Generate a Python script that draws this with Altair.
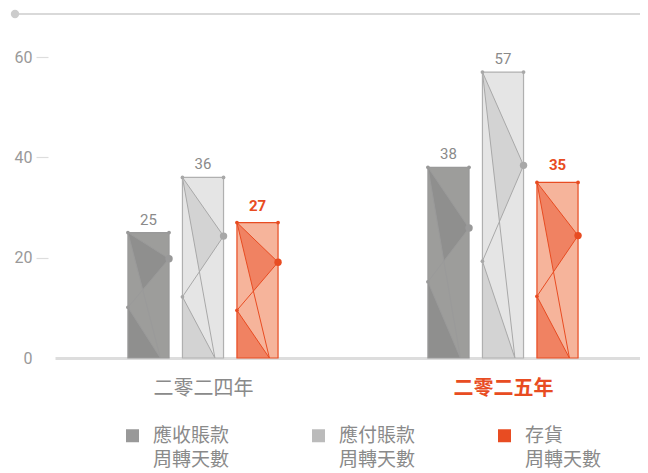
import json
import altair as alt
import pandas as pd

# ---------------- data ----------------
categories = ["二零二四年", "二零二五年"]
series = ["應收賬款 周轉天數", "應付賬款 周轉天數", "存貨 周轉天數"]
values_2024 = [25, 36, 27]
values_2025 = [38, 57, 35]
# decorative inner points (in data units)
right_pt_2024 = [19.8, 24.3, 19.1]
right_pt_2025 = [25.9, 38.4, 24.4]
left_pt_2024 = [10.1, 12.2, 9.5]
left_pt_2025 = [15.2, 19.3, 12.3]
y_ticks = [0, 20, 40, 60]

HIGHLIGHT_CAT = 1
HIGHLIGHT_SERIES = 2

# ---------------- layout / style ----------------
BAR_STEP = 0.1817
BAR_W = 0.137
B_FRAC = 0.79
W, H = 585, 301
XMIN = -0.4933
XMAX = XMIN + W / 300.0

BAR_FILLS = ["#9d9d9b", "#e5e5e5", "#f6b49b"]
BAR_STROKES = ["#999999", "#b0b0b0", "#e84c22"]
DARK_FILLS = ["#8f8f8e", "#d3d3d3", "#f08262"]
LINE_COLORS = ["#9a9a9a", "#a8a8a8", "#e84c22"]
DOT_COLORS = ["#999999", "#a8a8a8", "#e84c22"]
LEGEND_COLORS = ["#999999", "#bbbbbb", "#e84c22"]
ORANGE = "#e84c22"
GRAY_TXT = "#8a8a8a"
FONT = "Roboto, 'Noto Sans CJK TC', sans-serif"
CJK = "'Noto Sans CJK TC', sans-serif"

values = [values_2024, values_2025]
rights = [right_pt_2024, right_pt_2025]
lefts = [left_pt_2024, left_pt_2025]


def intersect(p1, p2, p3, p4):
    x1, y1 = p1; x2, y2 = p2; x3, y3 = p3; x4, y4 = p4
    d = (x1 - x2) * (y3 - y4) - (y1 - y2) * (x3 - x4)
    t = ((x1 - x3) * (y3 - y4) - (y1 - y3) * (x3 - x4)) / d
    return (x1 + t * (x2 - x1), y1 + t * (y2 - y1))


bars, polys, paths, dots = [], [], [], []
for ci, cat in enumerate(categories):
    for si, s in enumerate(series):
        v = values[ci][si]
        r = rights[ci][si]
        l = lefts[ci][si]
        xc = ci + (si - 1) * BAR_STEP
        x0, x1 = xc - BAR_W / 2, xc + BAR_W / 2
        xb = x0 + B_FRAC * BAR_W
        bid = f"{ci}-{si}"
        bars.append(dict(cat=cat, series=s, value=v, base=0, x0=x0, x1=x1, xc=xc,
                         mid=v / 2, label=str(v), hi=(si == HIGHLIGHT_SERIES)))
        TL, TR, R, L, B, BL = (x0, v), (x1, v), (x1, r), (x0, l), (xb, 0), (x0, 0)
        X = intersect(R, L, TL, B)
        for k, p in enumerate([TL, R, X]):
            polys.append(dict(pid=bid + "a", series=s, k=k, x=p[0], y=p[1]))
        for k, p in enumerate([L, BL, B]):
            polys.append(dict(pid=bid + "b", series=s, k=k, x=p[0], y=p[1]))
        for k, p in enumerate([TL, R, L, B, TL]):
            paths.append(dict(pid=bid, series=s, k=k, x=p[0], y=p[1]))
        for kind, p in [("small", TL), ("small", TR), ("small", L), ("big", R)]:
            dots.append(dict(series=s, kind=kind, x=p[0], y=p[1]))

bar_df = pd.DataFrame(bars)
poly_df = pd.DataFrame(polys)
path_df = pd.DataFrame(paths)
dot_df = pd.DataFrame(dots)

xs = alt.Scale(domain=[XMIN, XMAX], nice=False, zero=False)
ys = alt.Scale(domain=[0, 60], nice=False)

x_axis = alt.Axis(
    values=[0, 1],
    labelExpr=f"{json.dumps(categories, ensure_ascii=False)}[datum.value]",
    ticks=False, tickSize=0, grid=False, domain=True,
    domainColor="#dddddd", domainWidth=3,
    labelPadding=20, labelFontSize=20, labelFont=CJK,
    labelColor={"condition": {"test": f"datum.value == {HIGHLIGHT_CAT}", "value": ORANGE}, "value": GRAY_TXT},
    labelFontWeight={"condition": {"test": f"datum.value == {HIGHLIGHT_CAT}", "value": "bold"}, "value": "normal"},
    title=None,
)
y_axis = alt.Axis(
    values=y_ticks, grid=False, domain=False, offset=7, tickSize=12,
    tickColor={"condition": {"test": "datum.value == 0", "value": "transparent"}, "value": "#dddddd"},
    tickWidth=1.2, labelPadding=4, labelFontSize=16, labelColor="#999999", title=None,
)

X = alt.X("x:Q", scale=xs, axis=x_axis)
Y = alt.Y("y:Q", scale=ys, axis=y_axis)

legend_layer = alt.Chart(bar_df).mark_circle(size=10, opacity=1).encode(
    x=alt.X("xc:Q", scale=xs, axis=x_axis),
    y=alt.Y("mid:Q", scale=ys, axis=y_axis),
    color=alt.Color("series:N", scale=alt.Scale(domain=series, range=LEGEND_COLORS),
                    legend=alt.Legend(orient="none", legendX=68, legendY=369, direction="horizontal",
                                      columns=3, columnPadding=79, title=None, padding=0,
                                      symbolType="square", symbolSize=169, symbolStrokeWidth=0,
                                      symbolOpacity=1,
                                      labelExpr="split(datum.label, ' ')",
                                      labelFont=CJK, labelFontSize=19, labelColor=GRAY_TXT,
                                      labelOffset=11, labelBaseline="middle", labelLimit=300)),
)

bar_layer = alt.Chart(bar_df).mark_rect(strokeWidth=0).encode(
    x=alt.X("x0:Q", scale=xs, axis=x_axis), x2="x1:Q",
    y=alt.Y("value:Q", scale=ys, axis=y_axis), y2="base:Q",
    fill=alt.Fill("series:N", scale=alt.Scale(domain=series, range=BAR_FILLS), legend=None),
)

poly_layer = alt.Chart(poly_df).mark_line(strokeWidth=0, strokeOpacity=0).encode(
    x=X, y=Y, order=alt.Order("k:Q"), detail="pid:N",
    fill=alt.Fill("series:N", scale=alt.Scale(domain=series, range=DARK_FILLS), legend=None),
)

path_layer = alt.Chart(path_df).mark_line(strokeWidth=1).encode(
    x=X, y=Y, order=alt.Order("k:Q"), detail="pid:N",
    stroke=alt.Stroke("series:N", scale=alt.Scale(domain=series, range=LINE_COLORS), legend=None),
)

outline_layer = alt.Chart(bar_df).mark_rect(fillOpacity=0, strokeWidth=1.2).encode(
    x=alt.X("x0:Q", scale=xs, axis=x_axis), x2="x1:Q",
    y=alt.Y("value:Q", scale=ys, axis=y_axis), y2="base:Q",
    stroke=alt.Stroke("series:N", scale=alt.Scale(domain=series, range=BAR_STROKES), legend=None),
)

dot_layer = alt.Chart(dot_df).mark_circle(opacity=1).encode(
    x=X, y=Y,
    size=alt.Size("kind:N", scale=alt.Scale(domain=["small", "big"], range=[14, 55]), legend=None),
    color=alt.Color("series:N", scale=alt.Scale(domain=series, range=DOT_COLORS), legend=None),
)

text_normal = alt.Chart(bar_df).transform_filter("!datum.hi").mark_text(
    dy=-8, baseline="alphabetic", fontSize=15, color=GRAY_TXT, font=FONT).encode(
    x=alt.X("xc:Q", scale=xs, axis=x_axis), y=alt.Y("value:Q", scale=ys, axis=y_axis), text="label:N")

text_hi = alt.Chart(bar_df).transform_filter("datum.hi").mark_text(
    dy=-12, baseline="alphabetic", fontSize=15, fontWeight="bold", color=ORANGE, font=FONT).encode(
    x=alt.X("xc:Q", scale=xs, axis=x_axis), y=alt.Y("value:Q", scale=ys, axis=y_axis), text="label:N")

deco = pd.DataFrame({"a": [0]})
top_rule = alt.Chart(deco).mark_rule(color="#cccccc", strokeWidth=1.5).encode(
    x=alt.value(-39), x2=alt.value(W), y=alt.value(-43))
top_dot = alt.Chart(deco).mark_circle(color="#cccccc", size=70, opacity=1).encode(
    x=alt.value(-40), y=alt.value(-43))

chart = alt.layer(
    legend_layer, bar_layer, poly_layer, path_layer, outline_layer, dot_layer,
    text_normal, text_hi, top_rule, top_dot,
).resolve_scale(
    fill="independent", stroke="independent", color="independent", size="independent"
).properties(
    width=W, height=H, autosize="none",
    padding={"left": 47, "top": 49, "right": 0, "bottom": 114},
).configure(
    font=FONT,
    style={"guide-label": {"lineHeight": 24}},
).configure_view(stroke=None)

chart.save("out.html", embed_options={"renderer": "svg", "actions": False})
